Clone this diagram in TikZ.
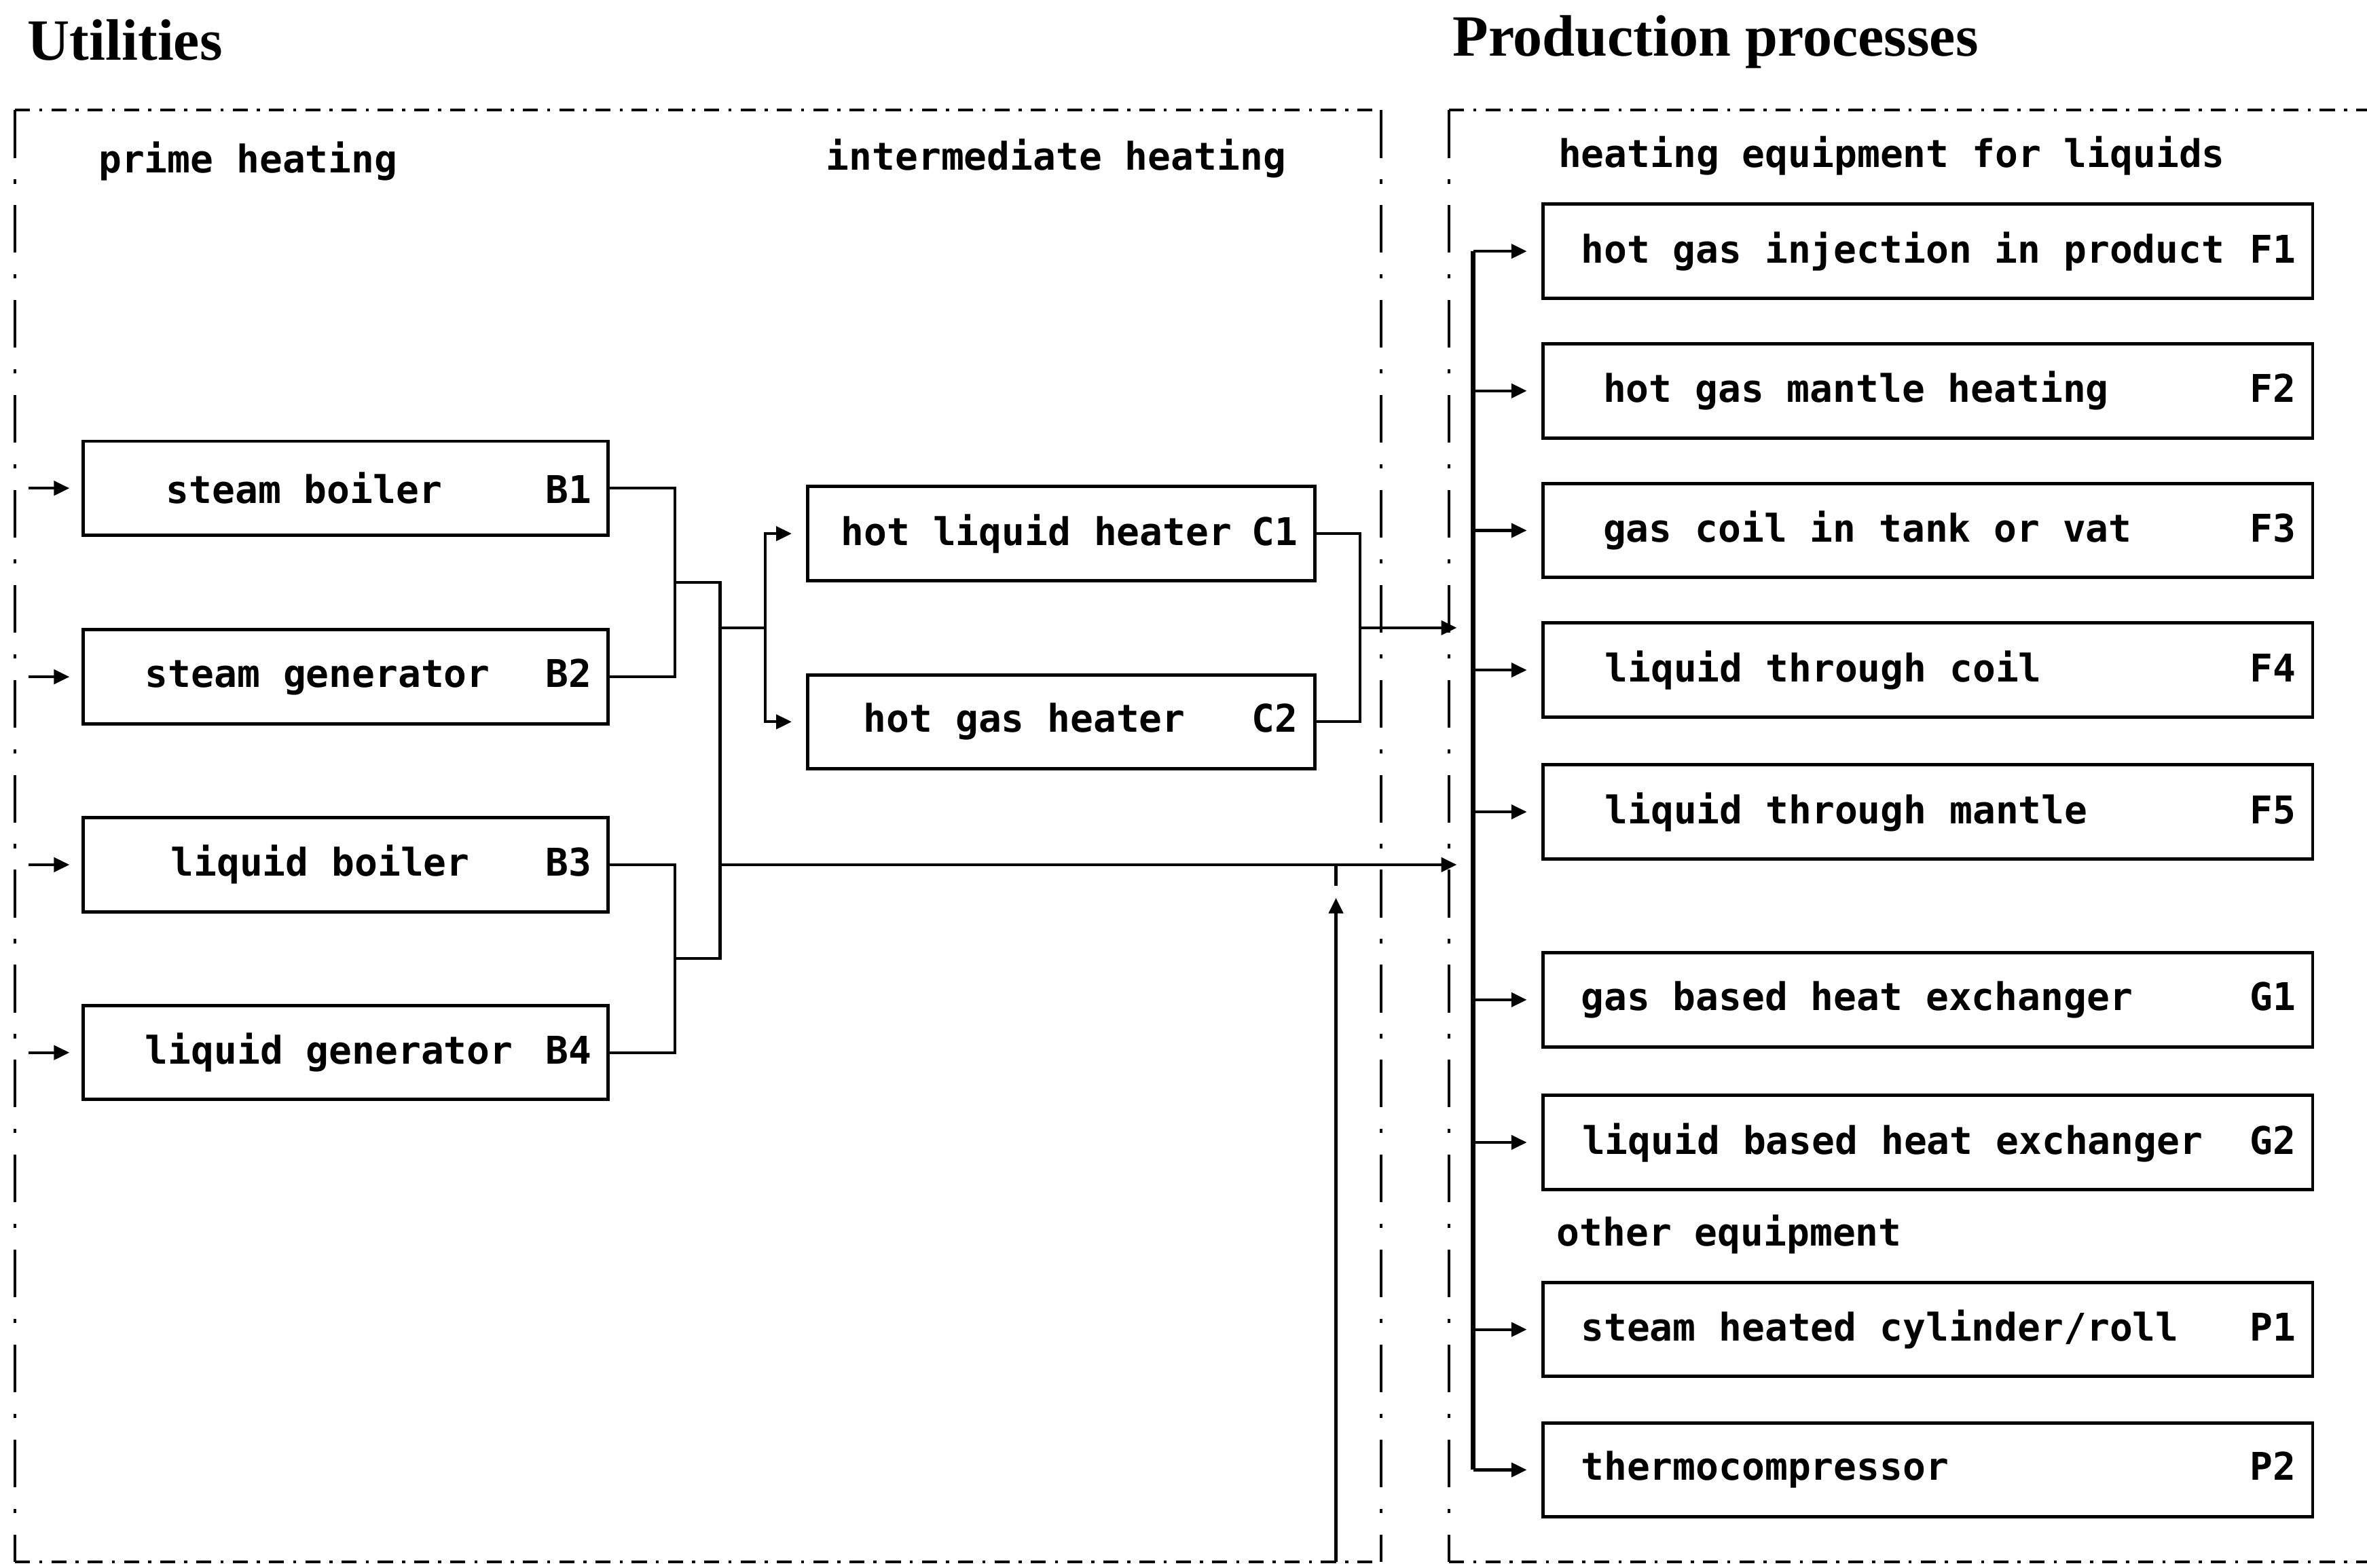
\documentclass[tikz,border=0pt]{standalone}
\usepackage{fontspec}
\setmainfont{Liberation Serif}
\setmonofont{DejaVu Sans Mono}
\usetikzlibrary{arrows.meta, calc}

% one text line inside a unit box: indent, name, code flush right
\newcommand{\unitline}[4]{\makebox[#1][l]{\hspace*{#2}#3\hfill#4}}

\begin{document}
\begin{tikzpicture}[
  x=0.02223cm, y=-0.02223cm,
  font=\ttfamily\bfseries\fontsize{16}{19}\selectfont,
  >={Triangle[length=6.5pt, width=6pt]},
  block/.style={draw, line width=1.4pt, inner xsep=7pt, inner ysep=0pt,
                minimum height=39.4pt},
  lab/.style={anchor=west, inner sep=0pt},
  heading/.style={anchor=base west, inner sep=0pt,
                  font=\rmfamily\bfseries\fontsize{24.5}{28}\selectfont},
  wire/.style={line width=1.2pt},
  flow/.style={->, line width=1.2pt, shorten >=6pt},
  bus/.style={line width=2pt},
  frameh/.style={line width=1.2pt, dash pattern=on 6.3pt off 3.8pt on 1.3pt off 3.8pt},
  framev/.style={line width=1.2pt, dash pattern=on 20pt off 9pt on 1.8pt off 9pt},
]

\useasboundingbox (0,0) rectangle (1568,1039);

% ---- Headings ------------------------------------------------------------
\node[heading] (tUtil) at (18,40) {Utilities};
\node[heading] (tProd) at (962,37) {Production processes};

% ---- Dash-dot frames -----------------------------------------------------
\coordinate (uTL) at (10,73);   \coordinate (uTR) at (915,73);
\coordinate (uBL) at (10,1035); \coordinate (uBR) at (915,1035);
\coordinate (pTL) at (960,73);  \coordinate (pTR) at (1568,73);
\coordinate (pBL) at (960,1035);\coordinate (pBR) at (1568,1035);

\draw[frameh] (uTL) -- (uTR);
\draw[frameh] (uBL) -- (uBR);
\draw[framev] (uTL) -- (uBL);
\draw[framev] (uTR) -- (uBR);
\draw[frameh] (pTL) -- (pTR);
\draw[frameh] (pBL) -- (pBR);
\draw[framev] (pTL) -- (pBL);

% ---- Section labels ------------------------------------------------------
\node[lab] (lPrime) at (65,107)   {prime heating};
\node[lab] (lInter) at (547,105)  {intermediate heating};
\node[lab] (lLiq)   at (1032,103) {heating equipment for liquids};
\node[lab] (lOther) at (1031,818) {other equipment};

% ---- Prime heating -------------------------------------------------------
\node[block, minimum width=220.1pt] (b1) at (229,323.5)
  {\unitline{206pt}{27.8pt}{steam boiler}{B1}};
\node[block, minimum width=220.1pt] (b2) at (229,448.5)
  {\unitline{206pt}{19pt}{steam generator}{B2}};
\node[block, minimum width=220.1pt] (b3) at (229,573)
  {\unitline{206pt}{29.7pt}{liquid boiler}{B3}};
\node[block, minimum width=220.1pt] (b4) at (229,697.5)
  {\unitline{206pt}{19pt}{liquid generator}{B4}};

% ---- Intermediate heating ------------------------------------------------
\node[block, minimum width=212.5pt] (c1) at (703,353.6)
  {\unitline{198.5pt}{7pt}{hot liquid heater}{C1}};
\node[block, minimum width=212.5pt] (c2) at (703,478.3)
  {\unitline{198.5pt}{16.4pt}{hot gas heater}{C2}};

% ---- Production equipment ------------------------------------------------
\node[block, minimum width=322.6pt] (f1) at (1277,166.5)
  {\unitline{308.6pt}{9pt}{hot gas injection in product}{F1}};
\node[block, minimum width=322.6pt] (f2) at (1277,259)
  {\unitline{308.6pt}{18.3pt}{hot gas mantle heating}{F2}};
\node[block, minimum width=322.6pt] (f3) at (1277,351.5)
  {\unitline{308.6pt}{18.3pt}{gas coil in tank or vat}{F3}};
\node[block, minimum width=322.6pt] (f4) at (1277,444)
  {\unitline{308.6pt}{19pt}{liquid through coil}{F4}};
\node[block, minimum width=322.6pt] (f5) at (1277,538)
  {\unitline{308.6pt}{19pt}{liquid through mantle}{F5}};
\node[block, minimum width=322.6pt] (g1) at (1277,662.5)
  {\unitline{308.6pt}{9pt}{gas based heat exchanger}{G1}};
\node[block, minimum width=322.6pt] (g2) at (1277,757)
  {\unitline{308.6pt}{9.5pt}{liquid based heat exchanger}{G2}};
\node[block, minimum width=322.6pt] (p1) at (1277,881)
  {\unitline{308.6pt}{9pt}{steam heated cylinder/roll}{P1}};
\node[block, minimum width=322.6pt] (p2) at (1277,974)
  {\unitline{308.6pt}{9pt}{thermocompressor}{P2}};

% ---- Feeds into the prime units ------------------------------------------
\coordinate (feedX) at (19,0);
\foreach \n in {b1,b2,b3,b4}
  \draw[flow, shorten >=5pt] (\n.west -| feedX) -- (\n.west);

% ---- Collecting the prime units ------------------------------------------
\coordinate (j12) at (447,386);
\coordinate (j34) at (447,635);
\coordinate (m12) at (477,386);
\coordinate (m34) at (477,635);
\draw[wire] (b1.east) -| (j12) |- (b2.east);
\draw[wire] (b3.east) -| (j34) |- (b4.east);
\draw[wire] (j12) -- (m12) -- (m34) -- (j34);

% split to the intermediate heaters
\coordinate (sC) at (477,416);
\coordinate (jC) at (507,416);
\draw[wire] (sC) -- (jC);
\draw[flow] (jC) |- (c1.west);
\draw[flow] (jC) |- (c2.west);

% intermediate heaters out
\coordinate (jO) at (901,416);
\coordinate (inC) at (965,416);
\draw[wire] (c1.east) -| (jO) |- (c2.east);
\draw[->, wire] (jO) -- (inC);

% direct line from the prime units
\coordinate (mB3) at (477,573);
\coordinate (inB) at (965,573);
\draw[->, wire] (mB3) -- (inB);

% return from below
\coordinate (fbFoot) at (885,1035);
\coordinate (fbTip)  at (885,595);
\coordinate (fbJoin) at (885,573);
\draw[->, wire] (fbFoot) -- (fbTip);
\draw[wire] (fbJoin) -- ++(0,14);

% ---- Distribution to the equipment ---------------------------------------
\coordinate (busX) at (976,0);
\draw[bus] (f1.west -| busX) -- (p2.west -| busX);
\foreach \n in {f1,f2,f3,f4,f5,g1,g2,p1,p2}
  \draw[flow] (\n.west -| busX) -- (\n.west);

\end{tikzpicture}
\end{document}
